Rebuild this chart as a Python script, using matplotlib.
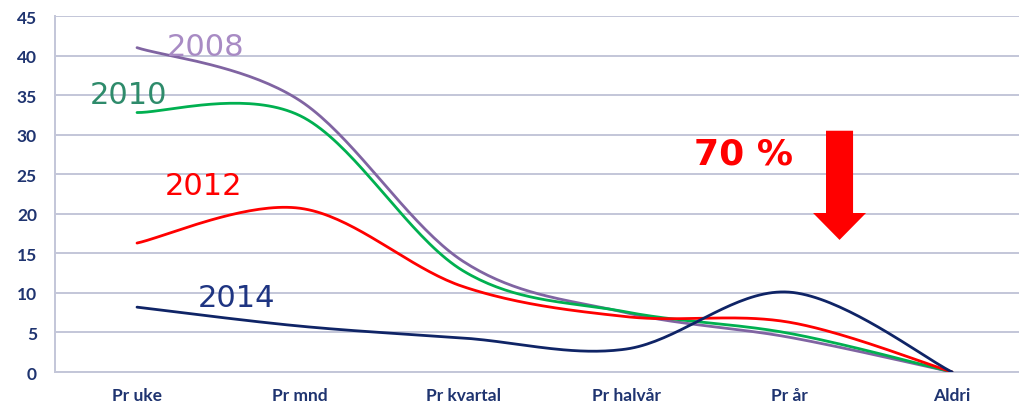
import numpy as np
import matplotlib.pyplot as plt
from matplotlib.patches import FancyArrow

plt.rcParams.update({
    "font.family": ["Lato", "DejaVu Sans"],
})

kategorier = ["Pr uke", "Pr mnd", "Pr kvartal", "Pr halvår", "Pr år", "Aldri"]
aar = ["2008", "2010", "2012", "2014"]
v2008 = [41.0, 34.3, 14.0, 7.5, 4.4, 0.0]
v2010 = [32.8, 32.4, 12.8, 7.6, 4.9, 0.0]
v2012 = [16.3, 20.7, 10.8, 7.0, 6.3, 0.0]
v2014 = [8.2, 5.8, 4.3, 2.9, 10.1, 0.0]
serier = [v2008, v2010, v2012, v2014]

farger_linje = ["#8064A2", "#00B050", "#FF0000", "#0F2466"]
farger_tekst = ["#A88BC4", "#2E8B6B", "#FF0000", "#1F3582"]
etikett_pos = [(0.18, 41.2), (-0.29, 35.1), (0.17, 23.6), (0.37, 9.4)]

navy = "#1F3470"


def glatt(x, y, n=40):
    # Excel-lignende bezier-utjevning
    x = np.asarray(x, float)
    y = np.asarray(y, float)
    px = np.concatenate([[x[0]], x, [x[-1]]])
    py = np.concatenate([[y[0]], y, [y[-1]]])
    t = np.linspace(0, 1, n)
    ut_x, ut_y = [], []
    for i in range(1, len(px) - 2):
        p0x, p1x, p2x, p3x = px[i - 1], px[i], px[i + 1], px[i + 2]
        p0y, p1y, p2y, p3y = py[i - 1], py[i], py[i + 1], py[i + 2]
        c1x = p1x + (p2x - p0x) / 6
        c1y = p1y + (p2y - p0y) / 6
        c2x = p2x - (p3x - p1x) / 6
        c2y = p2y - (p3y - p1y) / 6
        bx = (1 - t) ** 3 * p1x + 3 * (1 - t) ** 2 * t * c1x + 3 * (1 - t) * t ** 2 * c2x + t ** 3 * p2x
        by = (1 - t) ** 3 * p1y + 3 * (1 - t) ** 2 * t * c1y + 3 * (1 - t) * t ** 2 * c2y + t ** 3 * p2y
        ut_x.append(bx)
        ut_y.append(by)
    return np.concatenate(ut_x), np.concatenate(ut_y)


fig = plt.figure(figsize=(10.19, 4.10), dpi=100)
ax = fig.add_axes([0.054, 0.0902, 0.946, 0.8683])

xs = np.arange(len(kategorier))
for verdier, farge in zip(serier, farger_linje):
    gx, gy = glatt(xs, verdier)
    ax.plot(gx, gy, color=farge, lw=2.0, solid_capstyle="round", zorder=3)

for navn, farge, (tx, ty) in zip(aar, farger_tekst, etikett_pos):
    ax.text(tx, ty, navn, color=farge, fontsize=22, family="DejaVu Sans",
            ha="left", va="center", zorder=4)

ax.text(3.72, 27.6, "70 %", color="#FF0000", fontsize=26, fontweight="bold",
        family="DejaVu Sans", ha="center", va="center", zorder=4)
ax.add_patch(FancyArrow(4.31, 30.5, 0, -13.8, width=0.166, head_width=0.325,
                        head_length=3.4, length_includes_head=True,
                        color="#FF0000", lw=0, zorder=4))

ax.set_xlim(-0.503, (1019 - 137) / 163)
ax.set_ylim(0, 45)
ax.set_yticks(np.arange(0, 46, 5))
ax.set_xticks(xs)
ax.set_xticklabels(kategorier)
ax.yaxis.grid(True, color="#C3C6D8", lw=1.4)
ax.set_axisbelow(True)
for s in ["top", "right"]:
    ax.spines[s].set_visible(False)
ax.spines["left"].set_color("#C3C6D8")
ax.spines["bottom"].set_color("#C3C6D8")
ax.spines["left"].set_linewidth(1.4)
ax.spines["bottom"].set_linewidth(1.4)
ax.tick_params(length=0, labelsize=12.5, labelcolor=navy)
ax.tick_params(axis="x", pad=11)
ax.tick_params(axis="y", pad=13)
for lbl in ax.get_xticklabels() + ax.get_yticklabels():
    lbl.set_fontweight("bold")

fig.savefig("out.png", dpi=100)
